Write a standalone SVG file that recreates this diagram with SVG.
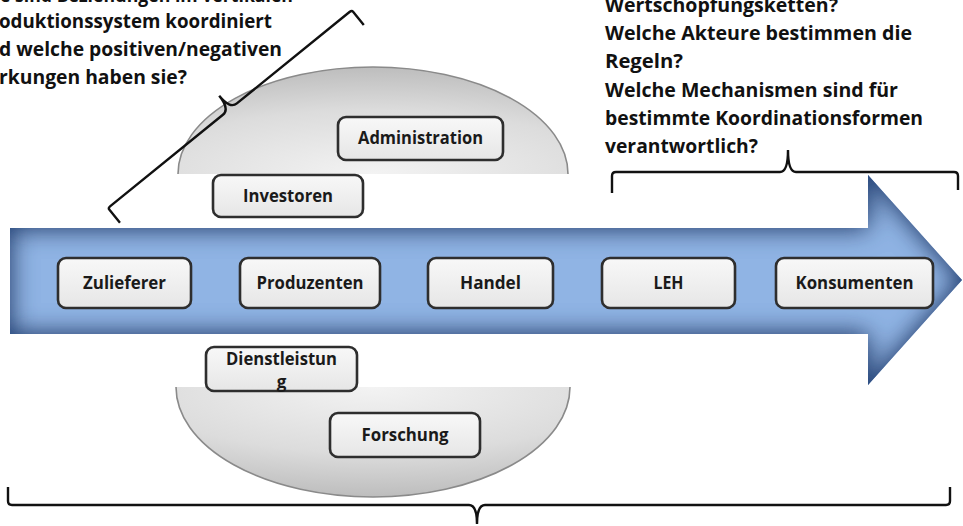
<svg xmlns="http://www.w3.org/2000/svg" width="963" height="526" viewBox="0 0 963 526">
  <defs>
    <style>
      .q { font-family: "Open Sans", "Liberation Sans", sans-serif; font-weight: bold; font-size: 19.5px; fill: #111; }
      .lbl { font-family: "Open Sans", "Liberation Sans", sans-serif; font-weight: bold; font-size: 17px; fill: #1a1a1a; text-anchor: middle; }
      .box { fill: url(#boxFill); stroke: #2e2e2e; stroke-width: 2.6; }
      .brace { fill: none; stroke: #111; stroke-width: 2.4; stroke-linejoin: miter; }
      .rim { fill: none; stroke: #8a8a8a; stroke-width: 1.6; }
    </style>
    <linearGradient id="boxFill" x1="0" y1="0" x2="0" y2="1">
      <stop offset="0" stop-color="#f8f8f8"/>
      <stop offset="1" stop-color="#e6e6e6"/>
    </linearGradient>
    <radialGradient id="domeFill" cx="0.5" cy="1" r="1">
      <stop offset="0" stop-color="#f3f3f3"/>
      <stop offset="0.6" stop-color="#dcdcdc"/>
      <stop offset="1" stop-color="#bdbdbd"/>
    </radialGradient>
    <radialGradient id="bowlFill" cx="0.5" cy="0" r="1">
      <stop offset="0" stop-color="#f3f3f3"/>
      <stop offset="0.6" stop-color="#dcdcdc"/>
      <stop offset="1" stop-color="#bdbdbd"/>
    </radialGradient>
    <filter id="innerShade" x="-5%" y="-10%" width="110%" height="120%">
      <feFlood flood-color="#2c4c80" result="tint"/>
      <feComposite in="tint" in2="SourceAlpha" operator="out" result="outside"/>
      <feGaussianBlur in="outside" stdDeviation="13" result="soft"/>
      <feComposite in="soft" in2="SourceAlpha" operator="in" result="shade"/>
      <feMerge>
        <feMergeNode in="SourceGraphic"/>
        <feMergeNode in="shade"/>
        <feMergeNode in="shade"/>
      </feMerge>
    </filter>
  </defs>

  <rect width="963" height="526" fill="#ffffff"/>

  <!-- upper half-disc and lower bowl -->
  <g id="dome-top">
    <path d="M178,174 A195,107 0 0 1 568,174 Z" fill="url(#domeFill)"/>
    <path class="rim" d="M178,174 A195,107 0 0 1 568,174"/>
  </g>
  <g id="dome-bottom">
    <path d="M176,387 A197,110 0 0 0 570,387 Z" fill="url(#bowlFill)"/>
    <path class="rim" d="M176,387 A197,110 0 0 0 570,387"/>
  </g>

  <!-- value chain arrow -->
  <g id="chain-arrow">
    <path d="M10,228 L868,228 L868,175 L962,280 L868,385 L868,334 L10,334 Z" fill="#90b4e4" filter="url(#innerShade)"/>
  </g>

  <!-- chain members -->
  <g id="zulieferer">
    <rect class="box" x="58" y="258" width="133" height="50" rx="8"/>
    <text class="lbl" x="124.5" y="289" textLength="83" lengthAdjust="spacingAndGlyphs">Zulieferer</text>
  </g>
  <g id="produzenten">
    <rect class="box" x="240" y="258" width="140" height="50" rx="8"/>
    <text class="lbl" x="310" y="289" textLength="107" lengthAdjust="spacingAndGlyphs">Produzenten</text>
  </g>
  <g id="handel">
    <rect class="box" x="428" y="258" width="125" height="50" rx="8"/>
    <text class="lbl" x="490.5" y="289" textLength="61" lengthAdjust="spacingAndGlyphs">Handel</text>
  </g>
  <g id="leh">
    <rect class="box" x="602" y="258" width="133" height="50" rx="8"/>
    <text class="lbl" x="668.5" y="289" textLength="30" lengthAdjust="spacingAndGlyphs">LEH</text>
  </g>
  <g id="konsumenten">
    <rect class="box" x="776" y="258" width="157" height="50" rx="8"/>
    <text class="lbl" x="854.5" y="289" textLength="118" lengthAdjust="spacingAndGlyphs">Konsumenten</text>
  </g>

  <!-- supporting actors -->
  <g id="administration">
    <rect class="box" x="338" y="117" width="165" height="43" rx="8"/>
    <text class="lbl" x="420.5" y="144" textLength="125" lengthAdjust="spacingAndGlyphs">Administration</text>
  </g>
  <g id="investoren">
    <rect class="box" x="213" y="175" width="150" height="42" rx="8"/>
    <text class="lbl" x="288" y="202" textLength="90" lengthAdjust="spacingAndGlyphs">Investoren</text>
  </g>
  <g id="dienstleistung">
    <rect class="box" x="206" y="347" width="151" height="44" rx="8"/>
    <text class="lbl" x="281.5" y="365" textLength="111" lengthAdjust="spacingAndGlyphs">Dienstleistun</text>
    <text class="lbl" x="281.5" y="388">g</text>
  </g>
  <g id="forschung">
    <rect class="box" x="330" y="413" width="150" height="44" rx="8"/>
    <text class="lbl" x="405" y="441" textLength="87" lengthAdjust="spacingAndGlyphs">Forschung</text>
  </g>

  <!-- braces -->
  <g id="connectors">
    <path class="brace" transform="translate(108,208) rotate(-39.06)" d="M0,19 L0,2 Q0,0 3,0 L148,0 Q157,0 157,-17 Q157,0 166,0 L311,0 Q314,0 314,2 L314,19"/>
    <path class="brace" d="M612,193 L612,176 Q612,172 616,172 L780,172 Q788,172 788,150 Q788,172 796,172 L954,172 Q958,172 958,176 L958,190"/>
    <path class="brace" d="M8,487 L8,501 Q8,505 12,505 L469,505 Q477,505 477,524 Q477,505 485,505 L946,505 Q950,505 950,501 L950,487"/>
  </g>

  <!-- questions -->
  <g id="question-left">
    <text class="q" x="0" y="2" textLength="293" lengthAdjust="spacingAndGlyphs">e sind Beziehungen im vertikalen</text>
    <text class="q" x="-1" y="28" textLength="273" lengthAdjust="spacingAndGlyphs">oduktionssystem koordiniert</text>
    <text class="q" x="-1" y="56" textLength="283" lengthAdjust="spacingAndGlyphs">d welche positiven/negativen</text>
    <text class="q" x="-1" y="84" textLength="188" lengthAdjust="spacingAndGlyphs">rkungen haben sie?</text>
  </g>
  <g id="question-right">
    <text class="q" x="605" y="12" textLength="233" lengthAdjust="spacingAndGlyphs">Wertschöpfungsketten?</text>
    <text class="q" x="605" y="40" textLength="307" lengthAdjust="spacingAndGlyphs">Welche Akteure bestimmen die</text>
    <text class="q" x="605" y="68" textLength="78" lengthAdjust="spacingAndGlyphs">Regeln?</text>
    <text class="q" x="605" y="96.5" textLength="293" lengthAdjust="spacingAndGlyphs">Welche Mechanismen sind für</text>
    <text class="q" x="605" y="125" textLength="318" lengthAdjust="spacingAndGlyphs">bestimmte Koordinationsformen</text>
    <text class="q" x="605" y="153" textLength="153" lengthAdjust="spacingAndGlyphs">verantwortlich?</text>
  </g>
</svg>
